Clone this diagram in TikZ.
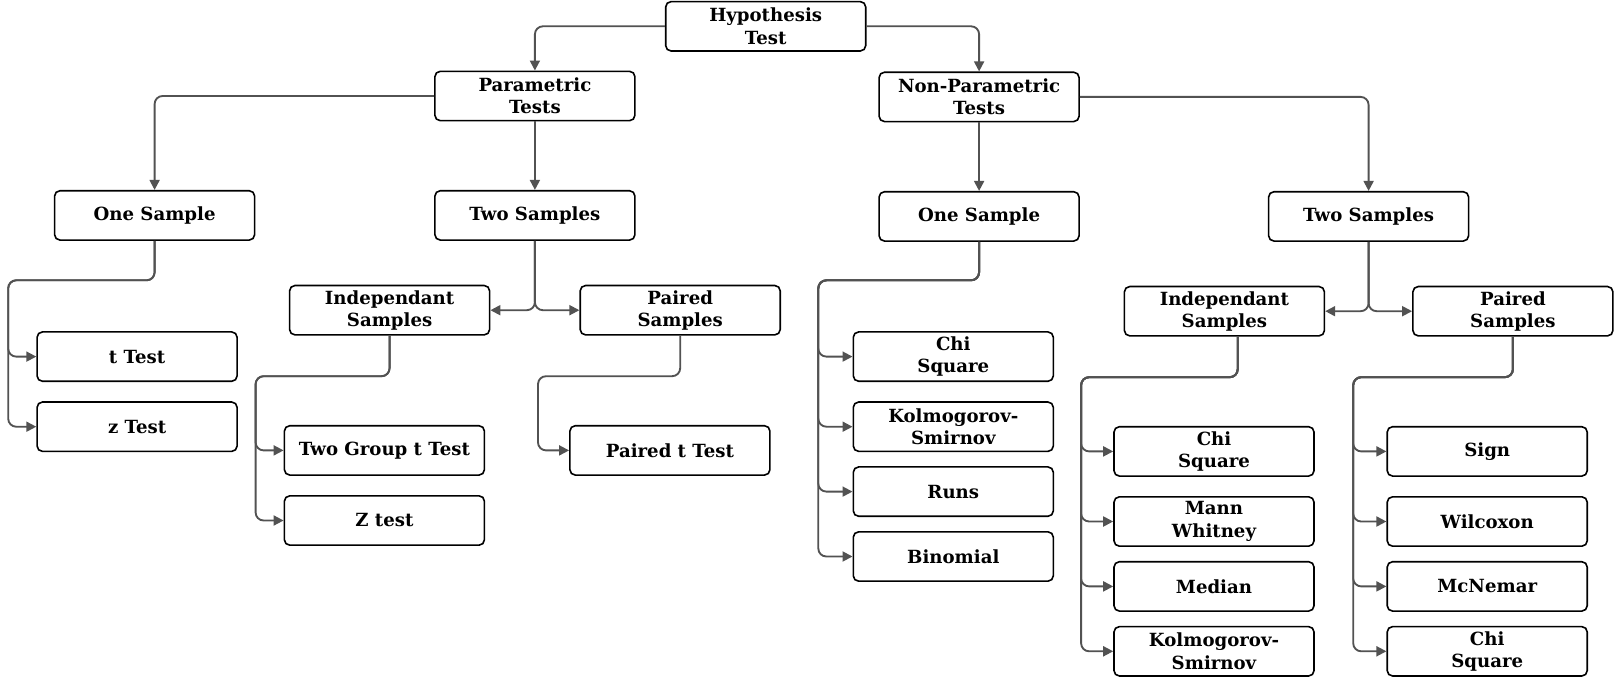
\documentclass[tikz,border=0pt]{standalone}
\usepackage{fontspec}
\setmainfont{DejaVu Serif}
\usetikzlibrary{arrows.meta}

\begin{document}
\begin{tikzpicture}[
  x=0.75pt, y=-0.75pt,
  box/.style={
    draw, line width=1.2pt, rounded corners=4pt, fill=white,
    minimum width=150pt, minimum height=37pt, inner sep=1pt,
    align=center, font=\fontsize{13.6}{16.8}\selectfont\bfseries,
  },
  conn/.style={draw=black!68, line width=1.4pt, rounded corners=6pt,
    -{Triangle[length=7.5pt, width=7.5pt]}},
]
\useasboundingbox (0,0) rectangle (1616,677);

% Top levels
\node[box] (hyp) at (765.7, 26.3) {Hypothesis\\Test};
\node[box] (param) at (534.9, 96) {Parametric\\Tests};
\node[box] (nonparam) at (979.1, 96.9) {Non-Parametric\\Tests};

% Parametric side
\node[box] (os1) at (154.6, 215.4) {One Sample};
\node[box] (ts1) at (534.9, 215.4) {Two Samples};
\node[box] (ind1) at (389.6, 310.2) {Independant\\Samples};
\node[box] (pair1) at (680.2, 310.2) {Paired\\Samples};
\node[box] (ttest) at (137.1, 356.6) {t Test};
\node[box] (ztest) at (137.1, 426.7) {z Test};
\node[box] (tgt) at (384.4, 450.4) {Two Group t Test};
\node[box] (zt) at (384.4, 520.5) {Z test};
\node[box] (ptt) at (669.9, 450.4) {Paired t Test};

% Non-parametric side
\node[box] (os2) at (979.1, 216.4) {One Sample};
\node[box] (ts2) at (1368.6, 216.4) {Two Samples};
\node[box] (ind2) at (1224.4, 311.2) {Independant\\Samples};
\node[box] (pair2) at (1512.9, 311.2) {Paired\\Samples};
\node[box] (chi1) at (953.3, 356.6) {Chi\\Square};
\node[box] (ks1) at (953.3, 426.7) {Kolmogorov-\\Smirnov};
\node[box] (runs) at (953.3, 491.6) {Runs};
\node[box] (binom) at (953.3, 556.5) {Binomial};
\node[box] (chi2) at (1214.0, 451.4) {Chi\\Square};
\node[box] (mw) at (1214.0, 521.5) {Mann\\Whitney};
\node[box] (med) at (1214.0, 586.4) {Median};
\node[box] (ks2) at (1214.0, 651.3) {Kolmogorov-\\Smirnov};
\node[box] (sign) at (1487.2, 451.4) {Sign};
\node[box] (wil) at (1487.2, 521.5) {Wilcoxon};
\node[box] (mcn) at (1487.2, 586.4) {McNemar};
\node[box] (chi3) at (1487.2, 651.3) {Chi\\Square};

% Trunk corners
\coordinate (os1t) at (8.2, 280.3);
\coordinate (ind1t) at (255.6, 376.2);
\coordinate (pair1t) at (538, 376.2);
\coordinate (os2t) at (818.3, 280.3);
\coordinate (ind2t) at (1081.1, 377.2);
\coordinate (pair2t) at (1353.2, 377.2);

% Branches
\draw[conn] (hyp.west) -| (param.north);
\draw[conn] (hyp.east) -| (nonparam.north);
\draw[conn] (param.west) -| (os1.north);
\draw[conn] (param.south) -- (ts1.north);
\draw[conn] (nonparam.south) -- (os2.north);
\draw[conn] (nonparam.east) -| (ts2.north);
\draw[conn] (ts1.south) |- (ind1.east);
\draw[conn] (ts1.south) |- (pair1.west);
\draw[conn] (ts2.south) |- (ind2.east);
\draw[conn] (ts2.south) |- (pair2.west);

% Leaf lists
\foreach \n in {ttest, ztest}
  \draw[conn] (os1.south) |- (os1t) |- (\n.west);
\foreach \n in {tgt, zt}
  \draw[conn] (ind1.south) |- (ind1t) |- (\n.west);
\draw[conn] (pair1.south) |- (pair1t) |- (ptt.west);
\foreach \n in {chi1, ks1, runs, binom}
  \draw[conn] (os2.south) |- (os2t) |- (\n.west);
\foreach \n in {chi2, mw, med, ks2}
  \draw[conn] ([xshift=10pt]ind2.south) |- (ind2t) |- (\n.west);
\foreach \n in {sign, wil, mcn, chi3}
  \draw[conn] (pair2.south) |- (pair2t) |- (\n.west);

\end{tikzpicture}
\end{document}
